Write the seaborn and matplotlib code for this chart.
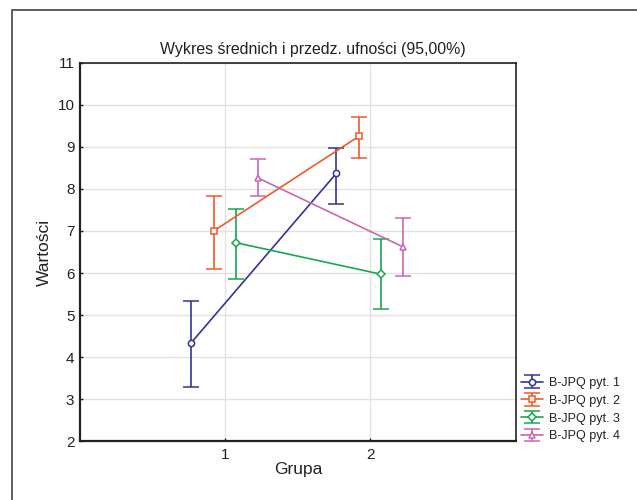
import numpy as np
import pandas as pd
import matplotlib
matplotlib.use("Agg")
import matplotlib.pyplot as plt
from matplotlib.patches import Rectangle
import seaborn as sns

# ---- data ----
groups = [1, 2]
series_names = ["B-JPQ pyt. 1", "B-JPQ pyt. 2", "B-JPQ pyt. 3", "B-JPQ pyt. 4"]
means_1 = [4.34, 8.37]
lower_1 = [3.30, 7.65]
upper_1 = [5.33, 8.98]
means_2 = [7.00, 9.25]
lower_2 = [6.09, 8.73]
upper_2 = [7.84, 9.70]
means_3 = [6.72, 5.97]
lower_3 = [5.87, 5.14]
upper_3 = [7.53, 6.81]
means_4 = [8.26, 6.62]
lower_4 = [7.83, 5.94]
upper_4 = [8.71, 7.32]
y_ticks = [2, 3, 4, 5, 6, 7, 8, 9, 10, 11]
x_ticks = [1, 2]

sns.set_theme(style="white")
plt.rcParams["font.family"] = ["Liberation Sans", "DejaVu Sans"]

colors = ["#333399", "#F05A28", "#17A84E", "#CC66B3"]
markers = ["o", "s", "D", "^"]
msizes = [4.5, 4.5, 4.0, 4.5]
offsets = [-0.235, -0.08, 0.075, 0.225]

fig = plt.figure(figsize=(6.37, 5.0), dpi=100)
ax = fig.add_axes([80 / 637, 1 - 441.3 / 500, (515.7 - 80) / 637, (441.3 - 62.7) / 500])

all_means = [means_1, means_2, means_3, means_4]
all_lower = [lower_1, lower_2, lower_3, lower_4]
all_upper = [upper_1, upper_2, upper_3, upper_4]

for i in range(4):
    m = np.array(all_means[i])
    lo = np.array(all_lower[i])
    hi = np.array(all_upper[i])
    x = np.array(groups, dtype=float) + offsets[i]
    ax.errorbar(x, m, yerr=[m - lo, hi - m], color=colors[i], marker=markers[i],
                markersize=msizes[i], markerfacecolor="white", markeredgewidth=1.1,
                linewidth=1.2, elinewidth=1.2, capsize=5.5, capthick=1.2,
                label=series_names[i], zorder=3)

ax.set_xlim(0, 3)
ax.set_ylim(2, 11)
ax.set_xticks(x_ticks)
ax.set_yticks(y_ticks)
ax.set_xticklabels([str(t) for t in x_ticks])
ax.set_yticklabels([str(t) for t in y_ticks])
ax.grid(True, color="#e2e2e2", linewidth=1.0, zorder=0)
ax.set_axisbelow(True)
for s in ax.spines.values():
    s.set_visible(True)
    s.set_color("#222222")
    s.set_linewidth(1.2)
ax.spines["left"].set_linewidth(1.6)
ax.spines["bottom"].set_linewidth(1.6)
ax.tick_params(axis="both", which="both", direction="in", length=2, width=1,
               color="#222222", labelsize=11, left=True, bottom=True,
               labelcolor="#222222")
ax.tick_params(axis="x", pad=5)
ax.tick_params(axis="y", pad=4)

ax.set_title("Wykres średnich i przedz. ufności (95,00%)", fontsize=11.4,
             color="#222222", pad=6, x=0.534)
ax.set_xlabel("Grupa", fontsize=12.5, color="#222222", labelpad=0)
ax.set_ylabel("Wartości", fontsize=12.5, color="#222222", labelpad=4)

leg = ax.legend(loc="lower left", bbox_to_anchor=(1.0, -0.016), frameon=False,
                fontsize=9, handlelength=1.8, handletextpad=0.45, labelspacing=0.46,
                borderaxespad=0.2, borderpad=0.2)
for t in leg.get_texts():
    t.set_color("#222222")

# outer frame (partly cut by the image edges)
fig.patches.append(Rectangle((12 / 637, -0.2), 1.5, 1 - 10 / 500 + 0.2,
                             transform=fig.transFigure, fill=False,
                             edgecolor="#444444", linewidth=1.2))

fig.savefig("out.png", dpi=100)
